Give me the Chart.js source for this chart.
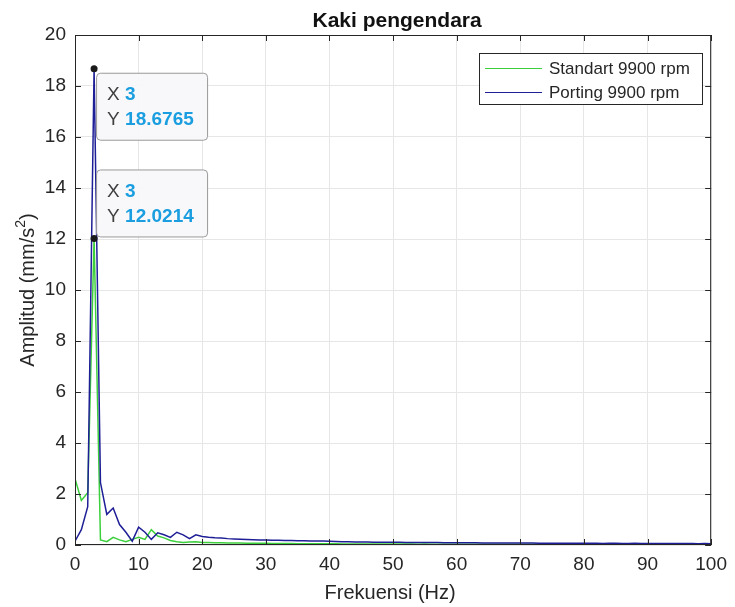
<!DOCTYPE html>
<html>
<head>
<meta charset="utf-8">
<script src="https://cdn.jsdelivr.net/npm/chart.js@4.4.1/dist/chart.umd.min.js"></script>
<style>
  html, body { margin: 0; padding: 0; background: #fff; }
</style>
</head>
<body>
<canvas id="spectrum" width="735" height="607"></canvas>
<script>
const frekuensi = [
  0, 1, 2, 3, 4, 5, 6, 7, 8, 9, 10, 11, 12, 13, 14, 15, 16, 17, 18, 19, 20,
  21, 22, 23, 24, 25, 26, 27, 28, 29, 30, 31, 32, 33, 34, 35, 36, 37, 38, 39, 40,
  41, 42, 43, 44, 45, 46, 47, 48, 49, 50, 51, 52, 53, 54, 55, 56, 57, 58, 59, 60,
  61, 62, 63, 64, 65, 66, 67, 68, 69, 70, 71, 72, 73, 74, 75, 76, 77, 78, 79, 80,
  81, 82, 83, 84, 85, 86, 87, 88, 89, 90, 91, 92, 93, 94, 95, 96, 97, 98, 99, 100
];
const standart = [
  2.6, 1.75, 2.05, 12.0214, 0.2, 0.13, 0.3, 0.2, 0.13, 0.22, 0.3, 0.22, 0.6, 0.35, 0.28, 0.18, 0.13, 0.1, 0.12, 0.13, 0.1,
  0.1, 0.09, 0.09, 0.08, 0.08, 0.08, 0.07, 0.07, 0.07, 0.07,
  0.06, 0.06, 0.06, 0.06, 0.05, 0.05, 0.05, 0.05, 0.05, 0.05,
  0.05, 0.04, 0.04, 0.04, 0.04, 0.04, 0.04, 0.04, 0.04, 0.04,
  0.04, 0.04, 0.04, 0.03, 0.04, 0.03, 0.03, 0.03, 0.03, 0.03,
  0.03, 0.03, 0.03, 0.03, 0.03, 0.03, 0.03, 0.03, 0.03, 0.03,
  0.03, 0.03, 0.03, 0.03, 0.02, 0.03, 0.03, 0.02, 0.03, 0.02,
  0.02, 0.03, 0.02, 0.02, 0.02, 0.02, 0.02, 0.02, 0.02, 0.02,
  0.02, 0.02, 0.02, 0.02, 0.02, 0.02, 0.02, 0.02, 0.02, 0.02
];
const porting = [
  0.15, 0.6, 1.5, 18.6765, 2.45, 1.2, 1.45, 0.8, 0.5, 0.15, 0.7, 0.5, 0.22, 0.48, 0.4, 0.3, 0.5, 0.4, 0.25, 0.4, 0.33,
  0.3, 0.28, 0.27, 0.25, 0.24, 0.23, 0.22, 0.21, 0.2, 0.2,
  0.19, 0.19, 0.18, 0.18, 0.17, 0.17, 0.16, 0.16, 0.16, 0.15,
  0.14, 0.13, 0.13, 0.12, 0.12, 0.12, 0.11, 0.11, 0.11, 0.11,
  0.11, 0.1, 0.1, 0.1, 0.1, 0.1, 0.1, 0.09, 0.09, 0.09,
  0.09, 0.09, 0.09, 0.08, 0.08, 0.08, 0.08, 0.08, 0.08, 0.08,
  0.08, 0.08, 0.07, 0.07, 0.07, 0.07, 0.07, 0.07, 0.07, 0.07,
  0.07, 0.07, 0.06, 0.07, 0.07, 0.06, 0.06, 0.07, 0.06, 0.06,
  0.06, 0.06, 0.06, 0.06, 0.06, 0.06, 0.06, 0.05, 0.06, 0.05
];
const seriesNames = ['Standart 9900 rpm', 'Porting 9900 rpm'];
const seriesColors = ['#3ccf3c', '#1e1e96'];
const datatipIndex = 3;   // both data tips sit on the 3 Hz peak

const FONT = "'Liberation Sans', Arial, sans-serif";
const INK = '#262626';

function toPoints(ys) {
  return frekuensi.map((f, i) => ({ x: f, y: ys[i] }));
}

const matlabLook = {
  id: 'matlabLook',
  afterDraw(chart) {
    const { ctx, chartArea: a, scales } = chart;
    const xs = scales.x, ys = scales.y;
    ctx.save();

    // box + inward tick marks
    ctx.strokeStyle = INK;
    ctx.lineWidth = 1;
    ctx.strokeRect(a.left + 0.5, a.top + 0.5, a.right - a.left - 1, a.bottom - a.top - 1);
    ctx.beginPath();
    xs.ticks.forEach(t => {
      const px = Math.round(xs.getPixelForValue(t.value)) + 0.5;
      ctx.moveTo(px, a.bottom); ctx.lineTo(px, a.bottom - 6);
      ctx.moveTo(px, a.top); ctx.lineTo(px, a.top + 6);
    });
    ys.ticks.forEach(t => {
      const py = Math.round(ys.getPixelForValue(t.value)) + 0.5;
      ctx.moveTo(a.left, py); ctx.lineTo(a.left + 6, py);
      ctx.moveTo(a.right, py); ctx.lineTo(a.right - 6, py);
    });
    ctx.stroke();

    // title and axis labels
    ctx.fillStyle = '#111';
    ctx.textAlign = 'center';
    ctx.textBaseline = 'alphabetic';
    ctx.font = 'bold 21px ' + FONT;
    ctx.fillText('Kaki pengendara', (a.left + a.right) / 2 + 4, 27);

    ctx.fillStyle = INK;
    ctx.font = '20px ' + FONT;
    ctx.fillText('Frekuensi (Hz)', (a.left + a.right) / 2 - 3, 599);

    ctx.save();
    ctx.translate(34, 290);
    ctx.rotate(-Math.PI / 2);
    const main = 'Amplitud (mm/s', sup = '2', tail = ')';
    ctx.font = '20px ' + FONT;
    const wMain = ctx.measureText(main).width, wTail = ctx.measureText(tail).width;
    ctx.font = '14px ' + FONT;
    const wSup = ctx.measureText(sup).width;
    let x0 = -(wMain + wSup + wTail) / 2;
    ctx.textAlign = 'left';
    ctx.font = '20px ' + FONT;
    ctx.fillText(main, x0, 0);
    ctx.font = '14px ' + FONT;
    ctx.fillText(sup, x0 + wMain, -9);
    ctx.font = '20px ' + FONT;
    ctx.fillText(tail, x0 + wMain + wSup, 0);
    ctx.restore();

    // legend
    const lx = 479, ly = 53, lw = 223, lh = 51;
    ctx.fillStyle = '#fff';
    ctx.fillRect(lx, ly, lw, lh);
    ctx.strokeStyle = INK;
    ctx.strokeRect(lx + 0.5, ly + 0.5, lw, lh);
    ctx.font = '17px ' + FONT;
    ctx.textAlign = 'left';
    ctx.textBaseline = 'middle';
    seriesNames.forEach((name, i) => {
      const yy = ly + 15 + i * 24;
      ctx.strokeStyle = seriesColors[i];
      ctx.beginPath();
      ctx.moveTo(lx + 6, yy + 0.5); ctx.lineTo(lx + 63, yy + 0.5);
      ctx.stroke();
      ctx.fillStyle = INK;
      ctx.fillText(name, lx + 70, yy + 1);
    });

    // data tips
    const tips = [
      { val: porting[datatipIndex], below: true },
      { val: standart[datatipIndex], below: false }
    ];
    tips.forEach(tip => {
      const px = xs.getPixelForValue(frekuensi[datatipIndex]);
      const py = ys.getPixelForValue(tip.val);
      const bw = 111, bh = 67;
      const bx = px + 2;
      const by = tip.below ? py + 4 : py - 2 - bh;
      ctx.fillStyle = 'rgba(248,248,251,0.93)';
      ctx.strokeStyle = '#9a9a9a';
      ctx.beginPath();
      ctx.roundRect(bx + 0.5, by + 0.5, bw, bh, 4);
      ctx.fill();
      ctx.stroke();

      ctx.textBaseline = 'middle';
      ctx.textAlign = 'left';
      const rows = [['X', String(frekuensi[datatipIndex])], ['Y', tip.val.toFixed(4)]];
      rows.forEach((r, k) => {
        const ty = by + 22 + k * 25;
        ctx.font = '19px ' + FONT;
        ctx.fillStyle = '#404040';
        ctx.fillText(r[0], bx + 11, ty);
        ctx.font = 'bold 19px ' + FONT;
        ctx.fillStyle = '#1a9ee0';
        ctx.fillText(r[1], bx + 29, ty);
      });

      ctx.fillStyle = '#1a1a1a';
      ctx.beginPath();
      ctx.arc(px, py, 3.5, 0, Math.PI * 2);
      ctx.fill();
    });

    ctx.restore();
  }
};

new Chart(document.getElementById('spectrum').getContext('2d'), {
  type: 'line',
  data: {
    datasets: [
      {
        label: seriesNames[0],
        data: toPoints(standart),
        borderColor: seriesColors[0],
        borderWidth: 1.5,
        pointRadius: 0,
        tension: 0,
        order: 1
      },
      {
        label: seriesNames[1],
        data: toPoints(porting),
        borderColor: seriesColors[1],
        borderWidth: 1.5,
        pointRadius: 0,
        tension: 0,
        order: 0
      }
    ]
  },
  options: {
    responsive: false,
    animation: false,
    layout: { padding: { top: 35, right: 18, bottom: 0, left: 0 } },
    plugins: {
      legend: { display: false },
      tooltip: { enabled: false },
      title: { display: false }
    },
    scales: {
      x: {
        type: 'linear',
        min: 0,
        max: 100,
        afterFit: s => { s.height = 62; },
        ticks: { stepSize: 10, color: INK, padding: 8, maxRotation: 0, font: { family: FONT, size: 19 } },
        grid: { color: '#e6e6e6', drawTicks: false },
        border: { display: false }
      },
      y: {
        min: 0,
        max: 20,
        afterFit: s => { s.width = 75; },
        ticks: { stepSize: 2, color: INK, padding: 9, font: { family: FONT, size: 19 } },
        grid: { color: '#e6e6e6', drawTicks: false },
        border: { display: false }
      }
    }
  },
  plugins: [matlabLook]
});
</script>
</body>
</html>
